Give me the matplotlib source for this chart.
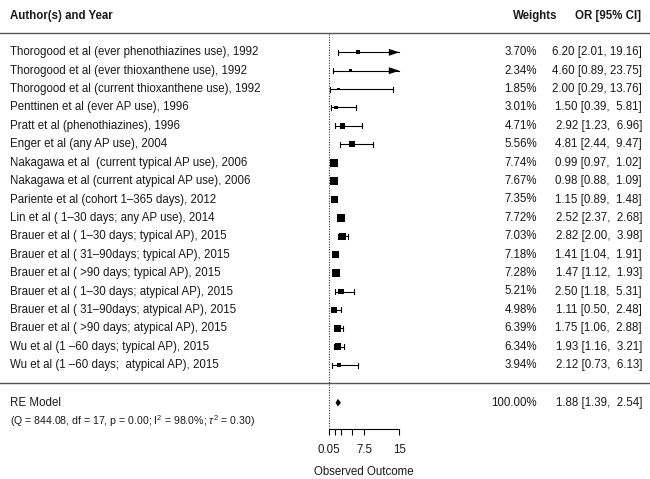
import matplotlib
matplotlib.use("Agg")
import matplotlib.pyplot as plt
import numpy as np

plt.rcParams['font.family'] = ['Liberation Sans', 'DejaVu Sans']
plt.rcParams['mathtext.fontset'] = 'custom'
plt.rcParams['mathtext.rm'] = 'Liberation Sans'
plt.rcParams['mathtext.it'] = 'Liberation Sans:italic'

studies = [
    "Thorogood et al (ever phenothiazines use), 1992",
    "Thorogood et al (ever thioxanthene use), 1992",
    "Thorogood et al (current thioxanthene use), 1992",
    "Penttinen et al (ever AP use), 1996",
    "Pratt et al (phenothiazines), 1996",
    "Enger et al (any AP use), 2004",
    "Nakagawa et al  (current typical AP use), 2006",
    "Nakagawa et al (current atypical AP use), 2006",
    "Pariente et al (cohort 1–365 days), 2012",
    "Lin et al ( 1–30 days; any AP use), 2014",
    "Brauer et al ( 1–30 days; typical AP), 2015",
    "Brauer et al ( 31–90days; typical AP), 2015",
    "Brauer et al ( >90 days; typical AP), 2015",
    "Brauer et al ( 1–30 days; atypical AP), 2015",
    "Brauer et al ( 31–90days; atypical AP), 2015",
    "Brauer et al ( >90 days; atypical AP), 2015",
    "Wu et al (1 –60 days; typical AP), 2015",
    "Wu et al (1 –60 days;  atypical AP), 2015",
]
weights = [3.70, 2.34, 1.85, 3.01, 4.71, 5.56, 7.74, 7.67, 7.35, 7.72,
           7.03, 7.18, 7.28, 5.21, 4.98, 6.39, 6.34, 3.94]
or_est = [6.20, 4.60, 2.00, 1.50, 2.92, 4.81, 0.99, 0.98, 1.15, 2.52,
          2.82, 1.41, 1.47, 2.50, 1.11, 1.75, 1.93, 2.12]
ci_lo = [2.01, 0.89, 0.29, 0.39, 1.23, 2.44, 0.97, 0.88, 0.89, 2.37,
         2.00, 1.04, 1.12, 1.18, 0.50, 1.06, 1.16, 0.73]
ci_hi = [19.16, 23.75, 13.76, 5.81, 6.96, 9.47, 1.02, 1.09, 1.48, 2.68,
         3.98, 1.91, 1.93, 5.31, 2.48, 2.88, 3.21, 6.13]

re_est, re_lo, re_hi = 1.88, 1.39, 2.54
re_stats = r"(Q = 844.08, df = 17, p = 0.00; I$^2$ = 98.0%; $\tau^2$ = 0.30)"

xticks = [0.05, 1.25, 2.5, 5, 7.5, 15]
xticklabels = ["0.05", "", "", "", "7.5", "15"]
alim = (0.05, 15)

# pixel helpers (figure is 650 x 479 px)
PXU = 70 / 14.95
def px2x(px):
    return 0.05 + (px - 329.3) / PXU
def px2y(py):
    return (py - 52.3) / 18.4

fig = plt.figure(figsize=(6.5, 4.79), dpi=100)
ax = fig.add_axes([0, 0, 1, 1])
ax.set_xlim(px2x(0), px2x(650))
ax.set_ylim(px2y(479), px2y(0))

k = len(studies)
rows = np.arange(k)
fs = 8.3
tc = '#1a1a1a'

# header
ax.text(px2x(10), px2y(16), "Author(s) and Year", fontsize=fs, fontweight='bold', va='center', color=tc)
ax.text(px2x(557), px2y(16), "Weights", fontsize=fs, fontweight='bold', va='center', ha='right', color=tc)
ax.text(px2x(641), px2y(16), "OR [95% CI]", fontsize=fs, fontweight='bold', va='center', ha='right', color=tc)
ax.axhline(px2y(33.3), color='#555555', lw=1.0)
ax.axhline(px2y(383), color='#555555', lw=1.0)

# reference line
ax.plot([0, 0], [px2y(34), px2y(428)], color='#333333', ls=(0, (1, 1.3)), lw=0.8)

# study rows
w = np.array(weights)
cex = 0.5 + (w - w.min()) / (w.max() - w.min())
side = 5.33 * cex * 0.72
cap = 0.14
for i in rows:
    lo, hi = ci_lo[i], ci_hi[i]
    hi_draw = min(hi, alim[1])
    ax.plot([lo, hi_draw], [i, i], color='black', lw=0.8)
    ax.plot([lo, lo], [i - cap, i + cap], color='black', lw=0.8)
    if hi > alim[1]:
        tri = [[alim[1], i], [alim[1] - 10.5 / PXU, i - 0.19], [alim[1] - 10.5 / PXU, i + 0.19]]
        ax.add_patch(plt.Polygon(tri, closed=True, color='black', lw=0))
    else:
        ax.plot([hi, hi], [i - cap, i + cap], color='black', lw=0.8)
    ax.text(px2x(10), i, studies[i], fontsize=fs, va='center', color=tc)
    ax.text(px2x(537), i, f"{weights[i]:.2f}%", fontsize=fs, va='center', ha='right', color=tc)
    ax.text(px2x(642), i, f"{or_est[i]:.2f} [{lo:.2f}, {hi:5.2f}]", fontsize=fs,
            va='center', ha='right', color=tc)
ax.scatter(or_est, rows, marker='s', s=side ** 2, color='black', linewidths=0, zorder=3)

# RE model
yre = px2y(402.7)
diamond = [[re_lo, yre], [re_est, yre - 0.21], [re_hi, yre], [re_est, yre + 0.21]]
ax.add_patch(plt.Polygon(diamond, closed=True, color='black', lw=0))
ax.text(px2x(10), yre, "RE Model", fontsize=fs, va='center', color=tc)
ax.text(px2x(10), px2y(421), re_stats, fontsize=7.6, va='center', color=tc)
ax.text(px2x(537), yre, f"{100:.2f}%", fontsize=fs, va='center', ha='right', color=tc)
ax.text(px2x(642), yre, f"{re_est:.2f} [{re_lo:.2f}, {re_hi:5.2f}]", fontsize=fs,
        va='center', ha='right', color=tc)

# x axis
for s in ['top', 'left', 'right']:
    ax.spines[s].set_visible(False)
ax.spines['bottom'].set_position(('data', px2y(428.5)))
ax.spines['bottom'].set_bounds(*alim)
ax.spines['bottom'].set_linewidth(0.8)
ax.set_yticks([])
ax.set_xticks(xticks)
ax.set_xticklabels(xticklabels, fontsize=fs, color=tc)
ax.tick_params(axis='x', direction='out', length=4, width=0.8, pad=7)
ax.text(7.5, px2y(472), "Observed Outcome", fontsize=fs, ha='center', va='center', color=tc)

fig.savefig("out.png", dpi=100)
